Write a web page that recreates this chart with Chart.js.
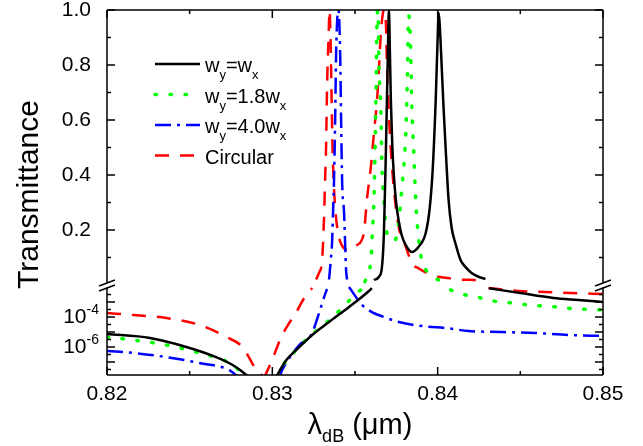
<!DOCTYPE html>
<html>
<head>
<meta charset="utf-8">
<title>Transmittance</title>
<script src="https://cdn.jsdelivr.net/npm/chart.js@4"></script>
<style>
  html, body { margin: 0; padding: 0; background: #fff; }
  canvas { display: block; }
</style>
</head>
<body>
<canvas id="transChart" width="643" height="446"></canvas>
<script>
// wavelength (um), transmittance; null splits a curve into pieces
const xTicks = [0.82, 0.83, 0.84, 0.85];
const xMinorTicks = [0.825, 0.835, 0.845];
const topTicks = [0.2, 0.4, 0.6, 0.8, 1.0];
const topMinorTicks = [0.1, 0.3, 0.5, 0.7, 0.9];
const logTicks = [1e-3, 1e-4, 1e-5, 1e-6, 1e-7];
const logMinorTicks = [3.16e-3, 3.16e-4, 3.16e-5, 3.16e-6, 3.16e-7, 3.16e-8];
const logLabels = [[1e-4, '-4'], [1e-6, '-6']];

const seriesNames = ['w_y=w_x', 'w_y=1.8w_x', 'w_y=4.0w_x', 'Circular'];

// w_y = w_x (black)
const equalTop = [
  [0.83614, 0.018], [0.83645, 0.03], [0.83663, 0.065], [0.83675, 0.19], [0.83687, 0.49],
  [0.83699, 0.85], [0.83705, 1.0], [0.83711, 0.85], [0.83717, 0.67], [0.83726, 0.5],
  [0.83735, 0.40], [0.83747, 0.31], [0.83765, 0.23], [0.83783, 0.18], [0.83807, 0.145],
  [0.83843, 0.12], [0.83886, 0.14], [0.83928, 0.19], [0.83952, 0.28], [0.83970, 0.42],
  [0.83988, 0.67], [0.84000, 0.9], [0.84006, 0.99], [0.84012, 0.95], [0.84024, 0.8],
  [0.84036, 0.64], [0.84048, 0.5], [0.84066, 0.31], [0.84084, 0.21], [0.84108, 0.15],
  [0.84139, 0.09], [0.84169, 0.065], [0.84205, 0.044], [0.84247, 0.03], [0.84289, 0.022]
];
const equalLow = [
  [0.8200, 7.3e-6], [0.8226, 3.95e-6], [0.8248, 1.0e-6], [0.8266, 2.1e-7], [0.8276, 6.3e-8],
  [0.82843, 1.35e-8], [0.82855, 1.0e-8], [0.829, null],
  [0.83022, 9e-9], [0.8303, 1.35e-8], [0.83085, 1.35e-7], [0.83145, 6.3e-7], [0.83241, 6.3e-6],
  [0.83343, 4.6e-5], [0.83464, 4.6e-4], [0.83584, 5.4e-3], [0.83602, 8.5e-3], [0.8395, null],
  [0.8431, 8.2e-3], [0.8450, 3.9e-3], [0.8470, 1.85e-3], [0.8485, 1.35e-3], [0.8500, 1.0e-3]
];

// w_y = 1.8 w_x (green)
const wide18Top = [
  [0.83560, 0.012], [0.83572, 0.03], [0.83590, 0.06], [0.83600, 0.12], [0.83605, 0.19],
  [0.83614, 0.30], [0.83620, 0.45], [0.83627, 0.7], [0.83633, 0.95], [0.83639, 1.0],
  [0.83645, 0.8], [0.83657, 0.62], [0.83663, 0.43], [0.83675, 0.31], [0.83687, 0.21],
  [0.83711, 0.17], [0.83735, 0.16], [0.83759, 0.2], [0.83783, 0.35], [0.83807, 0.55],
  [0.83816, 0.73], [0.83825, 0.98], [0.83831, 0.95], [0.83837, 0.85], [0.83843, 0.67],
  [0.83855, 0.49], [0.83868, 0.3], [0.83886, 0.16], [0.83904, 0.09], [0.83928, 0.055],
  [0.83964, 0.035], [0.84006, 0.018], [0.84042, 0.012]
];
const wide18Low = [
  [0.8200, 4.6e-6], [0.8216, 2.9e-6], [0.8236, 1.35e-6], [0.8256, 3.95e-7], [0.8274, 8.5e-8],
  [0.8283, 1.35e-8], [0.8284, 1.0e-8], [0.829, null],
  [0.83036, 9e-9], [0.83042, 1.35e-8], [0.8306, 4.6e-8], [0.83145, 6.3e-7], [0.83235, 6.3e-6],
  [0.83331, 4.6e-5], [0.83422, 3.95e-4], [0.83512, 3.95e-3], [0.8355, 8.5e-3], [0.838, null],
  [0.84078, 6.3e-3], [0.84169, 2.9e-3], [0.84265, 1.83e-3], [0.84355, 1.07e-3], [0.84458, 8.5e-4],
  [0.84548, 6.3e-4], [0.84639, 5.4e-4], [0.84729, 4.6e-4], [0.84831, 3.4e-4], [0.84922, 3.15e-4],
  [0.8500, 2.9e-4]
];

// w_y = 4.0 w_x (blue)
const wide40Top = [
  [0.83343, 0.02], [0.83355, 0.1], [0.83361, 0.15], [0.83367, 0.26], [0.83373, 0.38],
  [0.83380, 0.6], [0.83386, 0.85], [0.83400, 1.0], [0.83410, 0.85], [0.83416, 0.6],
  [0.83422, 0.38], [0.83434, 0.26], [0.83446, 0.055], [0.83452, 0.02]
];
const wide40Low = [
  [0.8200, 5.4e-7], [0.8216, 3.95e-7], [0.8236, 2.1e-7], [0.8256, 8.5e-8], [0.8274, 2.9e-8],
  [0.8278, 1.35e-8], [0.8279, 1.1e-8], [0.829, null],
  [0.83042, 8e-9], [0.83048, 1.35e-8], [0.8306, 2.9e-8], [0.83163, 1.35e-6], [0.83235, 6.3e-6],
  [0.83283, 1.83e-4], [0.83313, 2.1e-3], [0.83331, 7.3e-3], [0.8340, null],
  [0.83464, 9.9e-3], [0.83506, 2.1e-3], [0.83542, 6.3e-4], [0.83584, 2.9e-4], [0.83602, 2.1e-4],
  [0.83675, 9.9e-5], [0.83765, 4.6e-5], [0.83928, 2.3e-5], [0.84048, 1.83e-5], [0.84187, 1.16e-5],
  [0.84386, 9.9e-6], [0.84590, 8.5e-6], [0.84789, 6.3e-6], [0.8500, 5.4e-6]
];

// circular (red)
const circTop = [
  [0.83265, 0.02], [0.83283, 0.045], [0.83301, 0.09], [0.83313, 0.25], [0.83319, 0.38],
  [0.83325, 0.5], [0.83331, 0.72], [0.83340, 0.9], [0.83346, 1.0], [0.83352, 0.9],
  [0.83358, 0.7], [0.83364, 0.5], [0.83373, 0.35], [0.83392, 0.21], [0.83416, 0.15],
  [0.83464, 0.127], [0.83512, 0.145], [0.83554, 0.19], [0.83572, 0.31], [0.83596, 0.43],
  [0.83614, 0.55], [0.83633, 0.67], [0.83645, 0.79], [0.83657, 0.92], [0.83675, 1.0],
  [0.83687, 0.95], [0.83693, 0.8], [0.83705, 0.62], [0.83717, 0.49], [0.83735, 0.35],
  [0.83765, 0.21], [0.83807, 0.14], [0.83843, 0.08], [0.83886, 0.06], [0.83934, 0.044],
  [0.84006, 0.03], [0.84066, 0.025], [0.84127, 0.02], [0.84223, 0.018], [0.84283, 0.015]
];
const circLow = [
  [0.8200, 1.83e-4], [0.8216, 1.35e-4], [0.8236, 8.5e-5], [0.8256, 2.9e-5], [0.82723, 4.6e-6],
  [0.82819, 9.9e-7], [0.82904, 2.9e-8], [0.82934, 1.35e-8], [0.82944, 1.0e-8], [0.82948, null],
  [0.82952, 9e-9], [0.82958, 1.35e-8], [0.82994, 9.9e-8], [0.83054, 4.6e-6], [0.83102, 3.95e-5],
  [0.83145, 2.1e-4], [0.83193, 1.83e-3], [0.83223, 4.6e-3], [0.83241, 8.5e-3], [0.838, null],
  [0.84307, 8.5e-3], [0.84488, 5.4e-3], [0.84651, 4.6e-3], [0.84807, 3.95e-3], [0.8500, 3.4e-3]
];

const fontFamily = '"Liberation Sans", Arial, Helvetica, sans-serif';

const styles = [
  { color: '#000000', width: 2.5, dash: [], cap: 'butt' },
  { color: '#00ff00', width: 3.5, dash: [1.5, 13.5], cap: 'round' },
  { color: '#0000ff', width: 2.5, dash: [16, 6, 3, 6], cap: 'butt' },
  { color: '#ff0000', width: 2.5, dash: [14, 11], cap: 'butt' }
];

function toPoints(pairs) {
  return pairs.map(p => ({ x: p[0], y: p[1] }));
}

function makeSet(pairs, axis, s) {
  return {
    data: toPoints(pairs),
    yAxisID: axis,
    borderColor: s.color,
    borderWidth: s.width,
    borderDash: s.dash,
    borderCapStyle: s.cap,
    pointRadius: 0,
    fill: false,
    spanGaps: false,
    cubicInterpolationMode: 'monotone'
  };
}

// writes text pieces left to right (for sub/superscripts)
function drawRich(ctx, parts, x, y) {
  let cx = x;
  parts.forEach(p => {
    ctx.font = p.size + 'px ' + fontFamily;
    ctx.fillText(p.text, cx, y + (p.dy || 0));
    cx += ctx.measureText(p.text).width;
  });
  return cx;
}

function richWidth(ctx, parts) {
  let w = 0;
  parts.forEach(p => {
    ctx.font = p.size + 'px ' + fontFamily;
    w += ctx.measureText(p.text).width;
  });
  return w;
}

function legendParts(name) {
  // "w_y=1.8w_x" -> pieces with subscripts
  const out = [];
  const re = /_(.)/g;
  let last = 0, m;
  while ((m = re.exec(name)) !== null) {
    if (m.index > last) out.push({ text: name.slice(last, m.index), size: 20 });
    out.push({ text: m[1], size: 13, dy: 7 });
    last = m.index + 2;
  }
  if (last < name.length) out.push({ text: name.slice(last), size: 20 });
  return out;
}

const decorations = {
  id: 'decorations',
  afterDatasetsDraw(chart) {
    const ctx = chart.ctx;
    const sx = chart.scales.x, yt = chart.scales.yTop, yb = chart.scales.yBot;
    const L = sx.left, R = sx.right, T = yt.top, B = yb.bottom, brk = yt.bottom;

    ctx.save();
    ctx.strokeStyle = '#000';
    ctx.fillStyle = '#000';
    ctx.lineWidth = 1.5;
    ctx.setLineDash([]);

    // frame, with gaps at the axis break
    ctx.beginPath();
    ctx.moveTo(L, T); ctx.lineTo(R, T);
    ctx.moveTo(L, B); ctx.lineTo(R, B);
    [L, R].forEach(ax => {
      ctx.moveTo(ax, T); ctx.lineTo(ax, brk - 2.5);
      ctx.moveTo(ax, brk + 2.5); ctx.lineTo(ax, B);
    });
    ctx.stroke();

    // break marks
    ctx.beginPath();
    [L, R].forEach(ax => {
      ctx.moveTo(ax - 8, brk + 1); ctx.lineTo(ax + 8, brk - 5);
      ctx.moveTo(ax - 8, brk + 6); ctx.lineTo(ax + 8, brk);
    });
    ctx.stroke();

    // ticks (inward)
    ctx.beginPath();
    const xt = (v, len) => {
      const px = sx.getPixelForValue(v);
      ctx.moveTo(px, B); ctx.lineTo(px, B - len);
      ctx.moveTo(px, T); ctx.lineTo(px, T + len);
    };
    const yTick = (scale, v, len) => {
      const py = scale.getPixelForValue(v);
      ctx.moveTo(L, py); ctx.lineTo(L + len, py);
      ctx.moveTo(R, py); ctx.lineTo(R - len, py);
    };
    xTicks.forEach(v => xt(v, 8));
    xMinorTicks.forEach(v => xt(v, 4));
    topTicks.forEach(v => yTick(yt, v, 8));
    topMinorTicks.forEach(v => yTick(yt, v, 4));
    logTicks.forEach(v => yTick(yb, v, 8));
    logMinorTicks.forEach(v => yTick(yb, v, 4));
    ctx.stroke();

    // tick labels
    ctx.font = '21px ' + fontFamily;
    ctx.textAlign = 'center';
    ctx.textBaseline = 'middle';
    xTicks.forEach(v => ctx.fillText(v.toFixed(2), sx.getPixelForValue(v), B + 19));

    ctx.textAlign = 'right';
    topTicks.forEach(v => ctx.fillText(v.toFixed(1), L - 16, yt.getPixelForValue(v)));

    ctx.textAlign = 'left';
    ctx.textBaseline = 'alphabetic';
    logLabels.forEach(([v, exp]) => {
      const py = yb.getPixelForValue(v);
      const parts = [{ text: '10', size: 21 }, { text: exp, size: 14, dy: -9 }];
      const w = richWidth(ctx, parts);
      drawRich(ctx, parts, L - 8 - w, py + 6);
    });

    // axis titles
    ctx.save();
    ctx.font = '30px ' + fontFamily;
    ctx.textAlign = 'center';
    ctx.textBaseline = 'middle';
    ctx.translate(30, (T + B) / 2 + 2);
    ctx.rotate(-Math.PI / 2);
    ctx.fillText('Transmittance', 0, 0);
    ctx.restore();

    const xTitle = [
      { text: '\u03bb', size: 29 },
      { text: 'dB', size: 18, dy: 8 },
      { text: ' (\u03bcm)', size: 29 }
    ];
    const tw = richWidth(ctx, xTitle);
    drawRich(ctx, xTitle, (L + R) / 2 + 5 - tw / 2, 434);

    // legend
    const lx = 155, ly = 64, step = 30.5;
    seriesNames.forEach((name, i) => {
      const s = styles[i];
      const y = ly + i * step;
      ctx.beginPath();
      ctx.strokeStyle = s.color;
      ctx.lineWidth = s.width;
      ctx.lineCap = s.cap;
      ctx.setLineDash(s.dash);
      ctx.moveTo(lx, y); ctx.lineTo(lx + 45, y);
      ctx.stroke();
      ctx.setLineDash([]);
      ctx.lineCap = 'butt';
      ctx.fillStyle = '#000';
      drawRich(ctx, legendParts(name), lx + 50, y + 8);
    });

    ctx.restore();
  }
};

new Chart(document.getElementById('transChart'), {
  type: 'line',
  data: {
    datasets: [
      makeSet(equalTop, 'yTop', styles[0]),
      makeSet(equalLow, 'yBot', styles[0]),
      makeSet(wide18Top, 'yTop', styles[1]),
      makeSet(wide18Low, 'yBot', styles[1]),
      makeSet(wide40Top, 'yTop', styles[2]),
      makeSet(wide40Low, 'yBot', styles[2]),
      makeSet(circTop, 'yTop', styles[3]),
      makeSet(circLow, 'yBot', styles[3])
    ]
  },
  options: {
    responsive: false,
    animation: false,
    layout: { padding: { left: 107, right: 40, top: 10, bottom: 71 } },
    plugins: { legend: { display: false }, tooltip: { enabled: false } },
    scales: {
      x: { type: 'linear', min: 0.82, max: 0.85, display: false },
      yBot: {
        type: 'logarithmic', min: 1.35e-8, max: 1.35e-2,
        position: 'left', stack: 'y', stackWeight: 90, display: false
      },
      yTop: {
        type: 'linear', min: 0, max: 1,
        position: 'left', stack: 'y', stackWeight: 275, display: false
      }
    }
  },
  plugins: [decorations]
});
</script>
</body>
</html>
